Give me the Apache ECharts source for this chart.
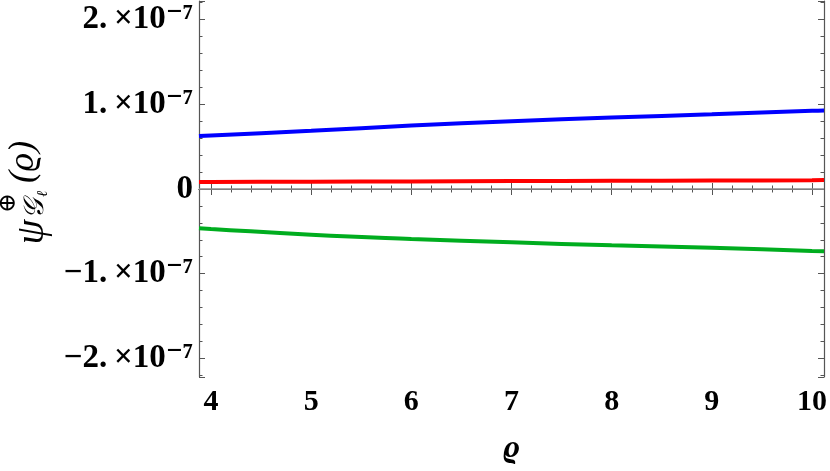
<!DOCTYPE html>
<html>
<head>
<meta charset="utf-8">
<script src="https://cdn.jsdelivr.net/npm/echarts@6/dist/echarts.min.js"></script>
<style>
  html, body { margin: 0; padding: 0; background: #fff; }
  #chart { width: 830px; height: 471px; }
</style>
</head>
<body>
<div id="chart"></div>
<script>
// values in units of 1e-7
const rho = [3.88, 4, 5, 6, 7, 8, 9, 10, 10.12]
const blueValues = [0.625, 0.633, 0.687, 0.749, 0.800, 0.844, 0.882, 0.924, 0.928]
const redValues = [0.083, 0.084, 0.087, 0.090, 0.094, 0.097, 0.100, 0.104, 0.105]
const greenValues = [-0.463, -0.472, -0.540, -0.590, -0.630, -0.665, -0.695, -0.731, -0.735]
const yExponent = '⁻⁷'

const serif = '"Liberation Serif", "DejaVu Serif", serif'
const frameColor = '#555'

const chart = echarts.init(document.getElementById('chart'))

function pairs(values) {
  return rho.map((x, i) => [x, values[i]])
}

function yLabel(v) {
  const r = Math.round(v * 1000) / 1000
  if (Math.abs(r - Math.round(r)) > 1e-6) return ''
  if (r === 0) return '0'
  const sign = r < 0 ? '−' : ''
  return sign + Math.abs(r) + '.\u2009×10' + yExponent
}

function xLabel(v) {
  const r = Math.round(v * 1000) / 1000
  if (Math.abs(r - Math.round(r)) > 1e-6) return ''
  return String(r)
}

const tickStyle = { show: true, inside: true, length: 6, lineStyle: { color: frameColor, width: 1 } }
const minorStyle = { show: true, splitNumber: 5, length: 3.5, lineStyle: { color: frameColor, width: 1 } }
const lineStyle = { show: true, lineStyle: { color: frameColor, width: 1.2 } }

function makeSeries(name, values, color) {
  return {
    name,
    type: 'line',
    smooth: true,
    showSymbol: false,
    symbol: 'none',
    lineStyle: { width: 4, color },
    data: pairs(values)
  }
}

const series = [
  makeSeries('blue', blueValues, '#0000ff'),
  makeSeries('red', redValues, '#ff0000'),
  makeSeries('green', greenValues, '#00ad1f')
]
series[0].markLine = {
  silent: true,
  symbol: 'none',
  label: { show: false },
  lineStyle: { color: '#8c8c8c', width: 1.6, type: 'solid' },
  data: [{ yAxis: 0 }]
}

const nameFont = { fontFamily: serif, fontStyle: 'italic', fill: '#000' }

chart.setOption({
  backgroundColor: '#fff',
  animation: false,
  grid: { left: 199, right: 4, top: 1, bottom: 94 },
  xAxis: [
    {
      type: 'value', min: 3.88, max: 10.12, splitNumber: 6, position: 'bottom',
      axisLine: lineStyle, axisTick: tickStyle, minorTick: minorStyle,
      splitLine: { show: false },
      axisLabel: {
        formatter: xLabel, margin: 10, showMinLabel: false, showMaxLabel: false,
        fontSize: 30, fontWeight: 'bold', fontFamily: serif, color: '#000'
      },
      name: 'ϱ', nameLocation: 'middle', nameGap: 56,
      nameTextStyle: { fontFamily: serif, fontStyle: 'italic', fontWeight: 'bold', fontSize: 32, color: '#000' }
    },
    {
      type: 'value', min: 3.88, max: 10.12, splitNumber: 6, position: 'top',
      axisLine: lineStyle, axisTick: tickStyle, minorTick: minorStyle,
      splitLine: { show: false }, axisLabel: { show: false }
    }
  ],
  yAxis: [
    {
      type: 'value', min: -2.22, max: 2.22, splitNumber: 5, position: 'left',
      axisLine: lineStyle, axisTick: tickStyle, minorTick: minorStyle,
      splitLine: { show: false },
      axisLabel: {
        formatter: yLabel, margin: 6, showMinLabel: false, showMaxLabel: false,
        fontSize: 33, fontWeight: 'bold', fontFamily: serif, color: '#000'
      }
    },
    {
      type: 'value', min: -2.22, max: 2.22, splitNumber: 5, position: 'right',
      axisLine: lineStyle, axisTick: tickStyle, minorTick: minorStyle,
      splitLine: { show: false }, axisLabel: { show: false }
    }
  ],
  graphic: [
    { type: 'text', x: 32, y: 232, rotation: Math.PI / 2,
      style: Object.assign({ text: 'ψ', fontSize: 40, align: 'center', verticalAlign: 'middle' }, nameFont) },
    { type: 'text', x: 9, y: 203, rotation: Math.PI / 2,
      style: Object.assign({ text: '⊕', fontSize: 24, align: 'center', verticalAlign: 'middle' }, nameFont, { fontStyle: 'normal' }) },
    { type: 'text', x: 36, y: 209, rotation: Math.PI / 2,
      style: Object.assign({ text: '𝒢', fontSize: 28, align: 'center', verticalAlign: 'middle' }, nameFont) },
    { type: 'text', x: 43, y: 194, rotation: Math.PI / 2,
      style: Object.assign({ text: 'ℓ', fontSize: 15, align: 'center', verticalAlign: 'middle' }, nameFont) },
    { type: 'text', x: 24, y: 162, rotation: Math.PI / 2,
      style: Object.assign({ text: '(ϱ)', fontSize: 36, align: 'center', verticalAlign: 'middle' }, nameFont) }
  ],
  series
})
</script>
</body>
</html>
